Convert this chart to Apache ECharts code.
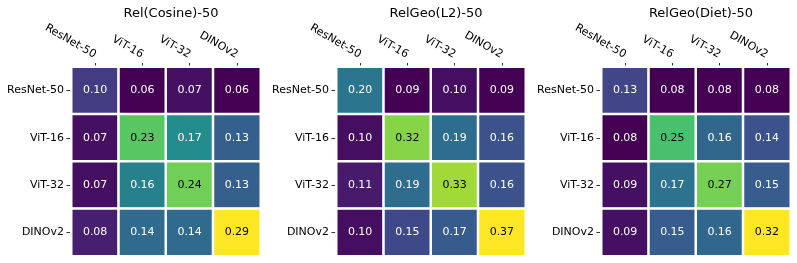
<!DOCTYPE html>
<html>
<head>
<meta charset="utf-8">
<script src="https://cdn.jsdelivr.net/npm/echarts@6/dist/echarts.min.js"></script>
<style>html,body{margin:0;padding:0;background:#fff}#c{width:797px;height:263px}</style>
</head>
<body>
<div id="c"></div>
<script>
const models = ['ResNet-50', 'ViT-16', 'ViT-32', 'DINOv2'];
const titles = ['Rel(Cosine)-50', 'RelGeo(L2)-50', 'RelGeo(Diet)-50'];
const relCosine = [
  [0.10, 0.06, 0.07, 0.06],
  [0.07, 0.23, 0.17, 0.13],
  [0.07, 0.16, 0.24, 0.13],
  [0.08, 0.14, 0.14, 0.29]
];
const relGeoL2 = [
  [0.20, 0.09, 0.10, 0.09],
  [0.10, 0.32, 0.19, 0.16],
  [0.11, 0.19, 0.33, 0.16],
  [0.10, 0.15, 0.17, 0.37]
];
const relGeoDiet = [
  [0.13, 0.08, 0.08, 0.08],
  [0.08, 0.25, 0.16, 0.14],
  [0.09, 0.17, 0.27, 0.15],
  [0.09, 0.15, 0.16, 0.32]
];
const matrices = [relCosine, relGeoL2, relGeoDiet];
const viridis = ['#440154','#482475','#414487','#355f8d','#2a788e','#21918c','#22a884','#44bf70','#7ad151','#bddf26','#fde725'];

const FONT = 'DejaVu Sans';
const lefts = [71.5, 336.5, 601.5];
const W = 189, TOP = 67;

const grid = [], xAxis = [], yAxis = [], series = [], visualMap = [], title = [];
matrices.forEach((m, i) => {
  const flat = m.flat();
  const mn = Math.min(...flat), mx = Math.max(...flat);
  grid.push({left: lefts[i], top: TOP, width: W, height: W, containLabel: false});
  title.push({text: titles[i], left: lefts[i] + W / 2, top: 2, textAlign: 'center',
    textStyle: {fontFamily: FONT, fontSize: 13, fontWeight: 'normal', color: '#000'}});
  xAxis.push({type: 'category', gridIndex: i, data: models, position: 'top', offset: 0.5,
    axisLine: {show: false}, splitArea: {show: false},
    axisTick: {show: true, alignWithLabel: true, length: 3.5, lineStyle: {color: '#000', width: 0.8}},
    axisLabel: {rotate: 30, margin: 11, fontFamily: FONT, fontSize: 11, color: '#000'}});
  yAxis.push({type: 'category', gridIndex: i, data: models, inverse: true, offset: 1.5,
    axisLine: {show: false}, splitArea: {show: false},
    axisTick: {show: true, alignWithLabel: true, length: 3.5, lineStyle: {color: '#000', width: 0.8}},
    axisLabel: {margin: 6, fontFamily: FONT, fontSize: 11, color: '#000'}});
  const data = [];
  m.forEach((row, r) => row.forEach((v, c) => {
    const t = (v - mn) / (mx - mn);
    data.push({value: [c, r, v], label: {color: t > 0.6 ? '#000' : '#fff'}});
  }));
  visualMap.push({show: false, seriesIndex: i, dimension: 2, min: mn, max: mx, inRange: {color: viridis}});
  series.push({type: 'heatmap', xAxisIndex: i, yAxisIndex: i, data: data,
    itemStyle: {borderColor: '#fff', borderWidth: 2.5},
    label: {show: true, fontFamily: FONT, fontSize: 11, formatter: p => p.value[2].toFixed(2)},
    emphasis: {disabled: true}});
});

const chart = echarts.init(document.getElementById('c'), null, {renderer: 'canvas'});
chart.setOption({animation: false, backgroundColor: '#fff', title, grid, xAxis, yAxis, visualMap, series});
</script>
</body>
</html>
